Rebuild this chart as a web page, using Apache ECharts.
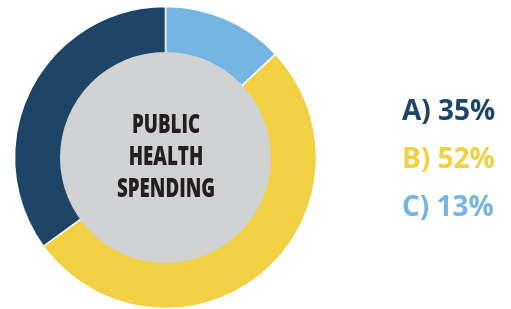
<!DOCTYPE html>
<html>
<head>
<meta charset="utf-8">
<script src="https://cdn.jsdelivr.net/npm/echarts@6/dist/echarts.min.js"></script>
<style>
html, body { margin: 0; padding: 0; background: #fff; }
#chart { width: 511px; height: 309px; }
</style>
</head>
<body>
<div id="chart"></div>
<script>
var labels = ['A', 'B', 'C'];
var shares = [35, 52, 13];
var colors = ['#1e4566', '#f2d043', '#74b5e2'];
var centerTitle = 'PUBLIC\nHEALTH\nSPENDING';

var myChart = echarts.init(document.getElementById('chart'));

// pie is drawn clockwise from 12 o'clock: C first, then B, then A
var ringData = [];
for (var i = labels.length - 1; i >= 0; i--) {
	ringData.push({ name: labels[i], value: shares[i], itemStyle: { color: colors[i] } });
}

var legendData = labels.map(function(n, i) {
	return { name: n, textStyle: { color: colors[i] } };
});

var option = {
	animation: false,
	legend: {
		orient: 'vertical',
		left: 397,
		top: 92,
		icon: 'none',
		itemWidth: 0,
		itemHeight: 30,
		itemGap: 19,
		selectedMode: false,
		data: legendData,
		formatter: function(name) {
			return name + ') ' + shares[labels.indexOf(name)] + '%';
		},
		textStyle: {
			fontFamily: '"Open Sans", "Noto Sans", sans-serif',
			fontWeight: 'bold',
			fontSize: 28,
			padding: [0, 0, 0, -5]
		}
	},
	// condensed title in the middle of the donut
	graphic: [ {
		type: 'text',
		x: 166,
		y: 158,
		scaleX: 0.72,
		z: 100,
		style: {
			text: centerTitle,
			textAlign: 'center',
			textVerticalAlign: 'middle',
			fill: '#231f20',
			fontFamily: '"Open Sans", sans-serif',
			fontWeight: 800,
			fontSize: 26,
			lineHeight: 32
		}
	} ],
	series: [ {
		type: 'pie',
		silent: true,
		center: [165.5, 157.5],
		radius: [104, 151],
		startAngle: 90,
		clockwise: true,
		itemStyle: { borderColor: '#ffffff', borderWidth: 1.5 },
		label: { show: false },
		labelLine: { show: false },
		data: ringData
	}, {
		type: 'pie',
		silent: true,
		z: 3,
		center: [165.5, 157.5],
		radius: [0, 105.5],
		itemStyle: { color: '#d0d1d3' },
		label: { show: false },
		labelLine: { show: false },
		data: [ { name: 'center', value: 1 } ]
	} ]
};

myChart.setOption(option);
</script>
</body>
</html>
